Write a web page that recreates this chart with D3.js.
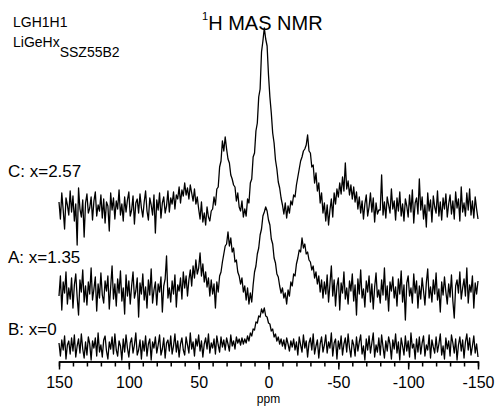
<!DOCTYPE html>
<html>
<head>
<meta charset="utf-8">
<script src="https://cdn.jsdelivr.net/npm/d3@7"></script>
<style>
  body { margin: 0; background: #fff; }
  svg text { font-family: Arial, "Liberation Sans", sans-serif; fill: #000; }
</style>
</head>
<body>
<div id="app"></div>
<script>
const w = 495;
const h = 406;

// spectra sampled every 1 ppm, from 150 down to -150 (intensity above each trace's baseline)
const ppmStart = 150;
const majorTicks = [150, 100, 50, 0, -50, -100, -150];

const traceC = [
  5,-12,14,-3,-22,9,2,-8,16,-5,
  11,-14,3,-38,19,-2,-10,7,-30,4,
  13,-6,-1,10,-13,6,15,-9,2,-4,
  12,-11,8,-16,5,1,-24,14,-3,9,
  -12,6,-2,17,-8,3,-14,10,-5,7,
  15,-9,-3,11,-17,4,8,-6,13,-1,
  -10,5,16,-4,-13,9,2,-8,12,-26,
  7,-3,14,-11,4,10,-6,1,16,-5,
  9,3,15,-2,12,8,20,4,17,11,
  24,12,19,8,22,14,6,18,3,10,
  -2,-12,5,-15,-6,-18,0,-10,-14,-4,
  -2,10,2,18,20,40,46,66,56,70,
  58,48,44,32,28,22,20,6,14,0,
  -4,6,-10,-2,-9,8,4,24,28,50,
  54,76,84,110,118,155,166,179,168,161,
  132,110,94,74,64,47,38,25,19,9,
  2,-7,4,-11,1,-6,6,2,12,10,
  22,30,38,46,50,56,58,62,72,56,
  54,40,42,24,34,16,24,4,14,-6,
  4,-14,2,-18,-3,8,-10,14,3,18,
  10,24,13,30,16,44,18,26,12,22,
  8,20,5,15,-2,10,-6,6,-12,3,
  12,-9,0,14,-5,9,-15,4,-7,-3,
  -3,32,-8,5,-11,10,2,-6,18,-2,
  6,-13,9,-4,15,-9,3,-14,8,1,
  -10,12,-5,17,-16,4,9,-7,28,-3,
  10,-12,2,-20,14,-4,7,-15,11,0,
  -6,16,-9,5,-13,9,-2,13,-10,3,
  12,-7,6,-12,15,-1,8,-14,20,-5,
  4,-9,14,-3,18,-8,6,-11,10,-2,-12
];

const traceA = [
  -6,14,-20,8,-3,18,-14,2,-9,12,
  -18,5,16,-7,-25,10,-2,20,-12,4,
  -15,8,-4,22,-10,1,13,-21,6,-8,
  17,-5,-13,9,-1,14,-19,3,24,-9,
  6,-16,11,-3,19,-11,2,-24,15,-6,
  9,-14,4,18,-8,-1,12,-27,7,-4,
  16,-10,3,-18,10,-5,21,-13,0,8,
  -15,6,-2,13,-22,4,11,34,-8,2,
  -12,9,-4,15,-17,5,-1,12,-9,18,
  2,14,-6,10,20,4,24,12,30,16,
  22,37,14,26,8,18,3,12,-6,10,
  -4,6,-18,8,-2,14,18,28,36,44,
  46,58,44,52,38,42,28,30,18,14,
  6,12,-2,4,-10,2,-14,-3,-12,5,
  18,24,36,42,55,61,74,78,83,79,
  70,65,51,46,32,27,16,13,4,-3,
  2,-8,-3,-14,0,-6,8,4,16,14,
  26,32,40,38,52,42,46,36,38,30,
  28,20,24,12,18,6,14,-2,10,-8,
  8,-4,15,-12,6,24,-6,10,-16,4,
  12,-20,7,-3,18,-9,2,-14,9,-1,
  16,-11,5,-25,11,-4,20,-8,1,-17,
  9,-2,14,-12,6,-19,3,17,-7,0,
  -13,10,-5,22,-10,4,-21,8,-1,13,
  -8,3,-16,11,-4,19,-12,5,-30,7,
  14,-6,2,-13,16,-3,9,-18,4,-9,
  12,-1,-15,7,21,-8,3,-12,10,-4,
  17,-10,1,-22,8,-5,13,-2,-14,6,
  -7,15,-11,-28,4,10,-3,18,-9,2,
  11,-6,22,-13,5,-2,14,-18,7,-4,9
];

const traceB = [
  4,-9,7,-3,11,-12,2,6,-7,9,
  -4,12,-10,1,8,-6,13,-2,-11,5,
  -8,10,3,-13,6,-1,9,-9,14,-5,
  2,-10,7,11,-4,-12,5,-2,10,-7,
  13,-3,-9,6,1,-13,8,-5,12,-1,
  -10,4,9,-6,2,14,-8,-3,7,-12,
  6,-4,11,-9,3,8,-13,5,-1,10,
  -6,2,12,-8,-2,9,-11,4,7,-4,
  11,-7,1,13,-5,6,-10,3,9,-3,
  -8,10,2,-6,14,-2,5,-9,8,1,
  12,-4,6,-10,3,9,-2,13,-6,4,
  -1,8,-7,11,2,-5,10,0,7,-3,
  9,3,-4,12,1,6,-2,10,4,8,
  2,9,3,8,4,11,6,14,11,18,
  17,25,24,31,30,38,34,39,31,30,
  24,23,16,18,10,13,6,10,3,8,
  1,7,-2,9,3,-4,6,0,8,-3,
  5,-8,10,2,-5,12,-1,6,-10,4,
  9,-3,13,-7,1,7,-11,3,10,-5,
  2,12,-6,5,-1,14,-9,4,8,-12,
  6,-2,11,-8,3,9,-5,13,-1,-10,
  7,2,-9,10,-4,5,12,-7,1,-13,
  8,-3,11,-6,4,14,-10,2,-5,9,
  -8,12,0,-11,6,-4,10,3,-12,7,
  -2,13,-6,5,-13,9,1,-8,11,-4,
  6,-10,14,-1,3,-12,8,-5,10,-7,
  4,11,-9,2,-3,12,-11,7,0,-6,
  10,-5,3,13,-8,1,-12,9,-2,6,
  -9,12,4,-6,8,-13,2,10,-4,7,
  -11,5,13,-3,9,-8,1,11,-6,3,-10
];

const traceLabels = ["C: x=2.57", "A: x=1.35", "B: x=0"];

// layout: where each trace sits on the stacked intensity axis
const traces = [
  { label: traceLabels[0], values: traceC, offset: 155, labelY: 177 },
  { label: traceLabels[1], values: traceA, offset: 72, labelY: 263 },
  { label: traceLabels[2], values: traceB, offset: 15, labelY: 335 }
];

const axisY = 361.5;

const svg = d3.select("#app")
  .append("svg")
  .attr("width", w)
  .attr("height", h);

const x = d3.scaleLinear().domain([150, -150]).range([59, 478]);
const y = d3.scaleLinear().domain([0, 340]).range([362, 22]);

//spectra
traces.forEach((t) => {
  const line = d3.line()
    .x((d, i) => x(ppmStart - i))
    .y((d) => y(t.offset + d));

  svg.append("path")
    .datum(t.values)
    .attr("d", line)
    .attr("fill", "none")
    .attr("stroke", "#000")
    .attr("stroke-width", 1.3)
    .attr("stroke-linejoin", "round");

  svg.append("text")
    .attr("x", 8)
    .attr("y", t.labelY)
    .attr("font-size", 17)
    .text(t.label);
});

//minor ticks
svg.append("g")
  .attr("transform", `translate(0,${axisY})`)
  .call(d3.axisBottom(x)
    .tickValues(d3.range(-150, 151, 10))
    .tickSize(5)
    .tickSizeOuter(0)
    .tickFormat(""))
  .call((g) => g.selectAll("path, line").attr("stroke-width", 1.5));

//major ticks + labels
const xAxis = svg.append("g")
  .attr("transform", `translate(0,${axisY})`)
  .call(d3.axisBottom(x)
    .tickValues(majorTicks)
    .tickSize(8)
    .tickSizeOuter(0)
    .tickPadding(7.5)
    .tickFormat((d) => String(d)));

xAxis.attr("font-family", null).attr("font-size", null);
xAxis.selectAll("path, line").attr("stroke-width", 1.5);
xAxis.selectAll("text").attr("font-size", 16);

svg.append("text")
  .attr("x", x(0))
  .attr("y", 403)
  .attr("text-anchor", "middle")
  .attr("font-size", 12)
  .text("ppm");

//title
const title = svg.append("text").attr("x", 202).attr("y", 30);
title.append("tspan").attr("font-size", 11).attr("dy", -10).text("1");
title.append("tspan").attr("font-size", 20).attr("dy", 10).text("H MAS NMR");

//sample notes
svg.append("text")
  .attr("x", 13)
  .attr("y", 27)
  .attr("font-size", 14)
  .text("LGH1H1");

const note = svg.append("text").attr("x", 13).attr("y", 47).attr("font-size", 14);
note.append("tspan").text("LiGeHx");
note.append("tspan").attr("dy", 10).text("SSZ55B2");
</script>
</body>
</html>
